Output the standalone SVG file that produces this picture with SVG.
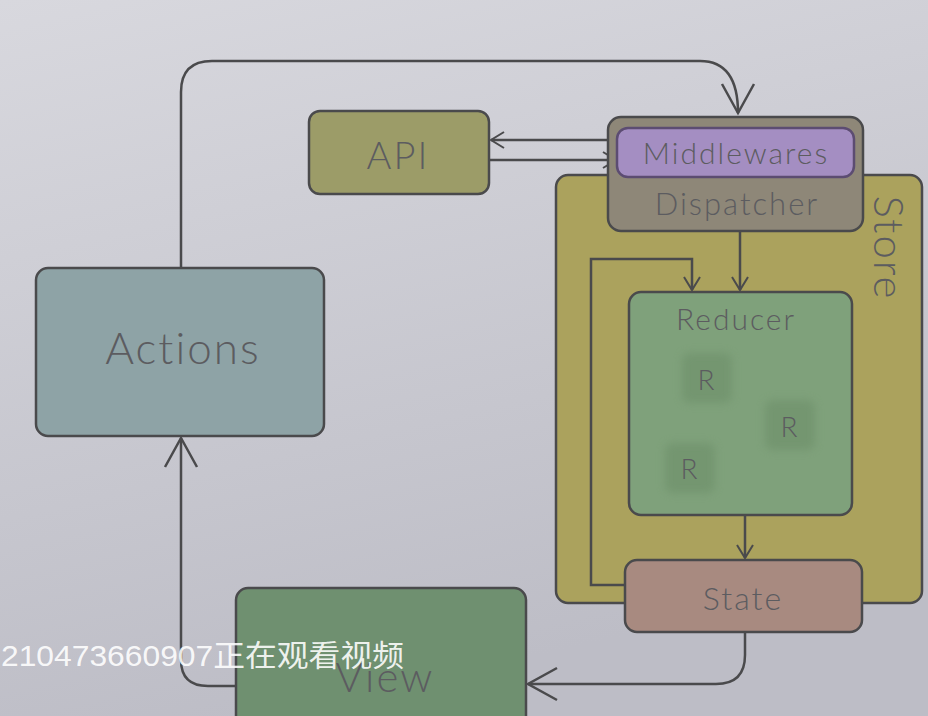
<svg xmlns="http://www.w3.org/2000/svg" width="928" height="716" viewBox="0 0 928 716">
<defs>
<linearGradient id="bg" x1="0" y1="0" x2="0.3" y2="1">
<stop offset="0" stop-color="#d8d8de"/>
<stop offset="1" stop-color="#bdbdc6"/>
</linearGradient>
<filter id="blur" x="-30%" y="-30%" width="160%" height="160%"><feGaussianBlur stdDeviation="4"/></filter>
<marker id="big" viewBox="-32 -18 36 36" markerWidth="36" markerHeight="36" refX="0" refY="0" orient="auto" markerUnits="userSpaceOnUse">
<path d="M-29,-16 L0,0 L-29,16" fill="none" stroke="#4a4a4c" stroke-width="2.5"/>
</marker>
<marker id="small" viewBox="-14 -10 18 20" markerWidth="18" markerHeight="20" refX="0" refY="0" orient="auto" markerUnits="userSpaceOnUse">
<path d="M-13,-8 L0,0 L-13,8" fill="none" stroke="#4a4a4c" stroke-width="2"/>
</marker>
</defs>
<style>
.ln{fill:none;stroke:#4a4a4c;stroke-width:2.5}
.box{stroke:#4a4a4c;stroke-width:2.5}
.lbl{font-family:Lato,"Liberation Sans",sans-serif;font-weight:300;fill:#5c5c60;text-anchor:middle;dominant-baseline:central;letter-spacing:2px}
</style>
<rect width="928" height="716" fill="url(#bg)"/>

<g id="store">
<rect x="556" y="175" width="366" height="428" rx="12" fill="#aba25d" class="box"/>
<text class="lbl" x="0" y="0" font-size="42" letter-spacing="5" fill="#6a6440" transform="translate(890,248) rotate(90)">Store</text>
</g>

<g id="connectors">
<path class="ln" d="M181,268 V92 Q181,61 212,61 H700 Q738,61 738,113" marker-end="url(#big)"/>
<path class="ln" d="M608,140 H491" marker-end="url(#small)"/>
<path class="ln" d="M489,160 H616" marker-end="url(#small)"/>
<path class="ln" d="M740,231 V290" marker-end="url(#small)"/>
<path class="ln" d="M627,585 H591 V259 H692 V290" marker-end="url(#small)"/>
<path class="ln" d="M745,515 V558" marker-end="url(#small)"/>
<path class="ln" d="M745,632 V655 Q745,684 716,684 H528" marker-end="url(#big)"/>
<path class="ln" d="M236,686 H208 Q181,686 181,660 V438" marker-end="url(#big)"/>
</g>

<g id="actions">
<rect x="36" y="268" width="288" height="168" rx="12" fill="#8ea3a6" class="box"/>
<text class="lbl" x="183" y="347" font-size="44">Actions</text>
</g>

<g id="api">
<rect x="309" y="111" width="180" height="83" rx="11" fill="#9c9c68" class="box"/>
<text class="lbl" x="398" y="154" font-size="38">API</text>
</g>

<g id="dispatcher">
<rect x="608" y="117" width="255" height="114" rx="13" fill="#8e8778" class="box"/>
<text class="lbl" x="737" y="203" font-size="31" fill="#5e594c">Dispatcher</text>
</g>

<g id="middlewares">
<rect x="617" y="128" width="237" height="49" rx="11" fill="#a48ec2" stroke="#5c4c72" stroke-width="2.5"/>
<text class="lbl" x="736" y="152" font-size="30" fill="#5e5070">Middlewares</text>
</g>

<g id="reducer">
<rect x="629" y="292" width="223" height="223" rx="12" fill="#7fa17b" class="box"/>
<text class="lbl" x="736" y="318" font-size="30" fill="#5e6a5c">Reducer</text>
<rect x="682" y="353" width="50" height="50" rx="8" fill="#6f926c" filter="url(#blur)" opacity="0.7"/>
<text class="lbl" x="707" y="379" font-size="28" letter-spacing="0" fill="#5e6a5c">R</text>
<rect x="765" y="400" width="50" height="50" rx="8" fill="#6f926c" filter="url(#blur)" opacity="0.7"/>
<text class="lbl" x="790" y="426" font-size="28" letter-spacing="0" fill="#5e6a5c">R</text>
<rect x="665" y="443" width="50" height="50" rx="8" fill="#6f926c" filter="url(#blur)" opacity="0.7"/>
<text class="lbl" x="690" y="468" font-size="28" letter-spacing="0" fill="#5e6a5c">R</text>
</g>

<g id="state">
<rect x="625" y="560" width="237" height="72" rx="12" fill="#a88a80" class="box"/>
<text class="lbl" x="743" y="597" font-size="32" fill="#6e5e58">State</text>
</g>

<g id="view">
<rect x="236" y="588" width="290" height="150" rx="12" fill="#6f9070" class="box"/>
<text class="lbl" x="385" y="676" font-size="42" fill="#4e5e4e">View</text>
</g>

<text x="1" y="666" font-family="'Liberation Sans','Noto Sans CJK SC',sans-serif" font-size="30" textLength="403" lengthAdjust="spacingAndGlyphs" fill="#ffffff" fill-opacity="0.9">210473660907正在观看视频</text>
</svg>
